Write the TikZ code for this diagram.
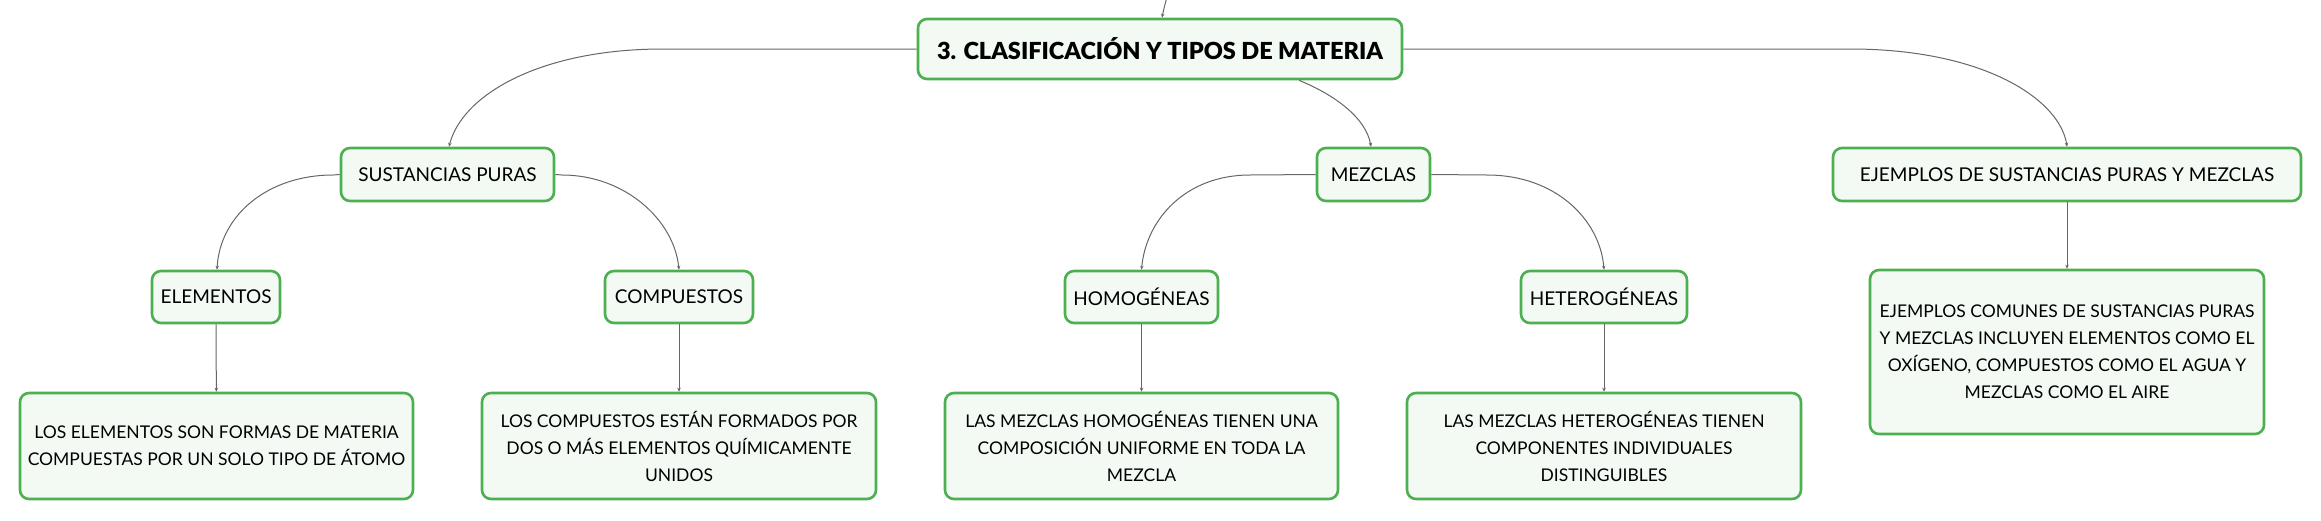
\documentclass[tikz,border=0pt]{standalone}
\usepackage{fontspec}
\setmainfont{Lato}
\newfontfamily\rootfont{Lato Black}
\usetikzlibrary{arrows.meta}
\definecolor{boxgreen}{RGB}{76,175,80}
\definecolor{boxfill}{RGB}{243,250,244}
\definecolor{linkgray}{RGB}{102,102,102}

\begin{document}
\begin{tikzpicture}[x=1pt, y=-1pt,
	box/.style={draw=boxgreen, line width=2.6pt, fill=boxfill, rounded corners=9pt, inner sep=0pt, align=center, font=\fontsize{19}{27}\selectfont},
	defbox/.style={box, font=\fontsize{17.5}{27}\selectfont},
	link/.style={draw=linkgray, line width=1pt, -{Stealth[length=4pt, width=3.5pt]}}]

\useasboundingbox (0,0) rectangle (2321,520);

% root and first level
\node[box, minimum width=484pt, minimum height=60pt, font=\fontsize{23.5}{28}\rootfont] (root) at (1160,49) {3. CLASIFICACIÓN Y TIPOS DE MATERIA};
\node[box, minimum width=213pt, minimum height=53pt] (puras) at (447.5,174.5) {SUSTANCIAS PURAS};
\node[box, minimum width=113pt, minimum height=53pt] (mezclas) at (1373.5,174.5) {MEZCLAS};
\node[box, minimum width=468pt, minimum height=53pt] (ejemplos) at (2067,174.5) {EJEMPLOS DE SUSTANCIAS PURAS Y MEZCLAS};

% second level
\node[box, minimum width=128pt, minimum height=52pt] (elementos) at (216,297) {ELEMENTOS};
\node[box, minimum width=148pt, minimum height=52pt] (compuestos) at (679,297) {COMPUESTOS};
\node[box, minimum width=153pt, minimum height=52pt] (homog) at (1141.5,297) {HOMOGÉNEAS};
\node[box, minimum width=166pt, minimum height=52pt] (heterog) at (1604,297) {HETEROGÉNEAS};

% descriptions
\node[defbox, minimum width=393pt, minimum height=106pt] (elementosdef) at (216.5,446) {LOS ELEMENTOS SON FORMAS DE MATERIA\\COMPUESTAS POR UN SOLO TIPO DE ÁTOMO};
\node[defbox, minimum width=394pt, minimum height=106pt] (compuestosdef) at (679,446) {LOS COMPUESTOS ESTÁN FORMADOS POR\\DOS O MÁS ELEMENTOS QUÍMICAMENTE\\UNIDOS};
\node[defbox, minimum width=393pt, minimum height=106pt] (homogdef) at (1141.5,446) {LAS MEZCLAS HOMOGÉNEAS TIENEN UNA\\COMPOSICIÓN UNIFORME EN TODA LA\\MEZCLA};
\node[defbox, minimum width=394pt, minimum height=106pt] (heterogdef) at (1604,446) {LAS MEZCLAS HETEROGÉNEAS TIENEN\\COMPONENTES INDIVIDUALES\\DISTINGUIBLES};
\node[defbox, minimum width=394pt, minimum height=164pt] (ejemplosdef) at (2067,352) {EJEMPLOS COMUNES DE SUSTANCIAS PURAS\\Y MEZCLAS INCLUYEN ELEMENTOS COMO EL\\OXÍGENO, COMPUESTOS COMO EL AGUA Y\\MEZCLAS COMO EL AIRE};

% connectors
\coordinate (up) at (1167,-3);
\draw[link] (up) .. controls (1164,8) .. ([xshift=2pt]root.north);
\draw[link] (root.west) -- (663,49) .. controls (540,49) and (462,95) .. ([xshift=1.5pt]puras.north);
\draw[link] ([xshift=139pt]root.south) .. controls (1335,95) and (1366,118) .. ([xshift=-2.5pt]mezclas.north);
\draw[link] (root.east) -- (1850,49) .. controls (1985,49) and (2060,100) .. (ejemplos.north);

\draw[link] (puras.west) -- (333,175) .. controls (268,175) and (220,215) .. ([xshift=1pt]elementos.north);
\draw[link] (puras.east) -- (562,175) .. controls (625,175) and (674,220) .. (compuestos.north);
\draw[link] (mezclas.west) -- (1250,175) .. controls (1185,175) and (1146,220) .. (homog.north);
\draw[link] (mezclas.east) -- (1487,175) .. controls (1556,175) and (1600,220) .. (heterog.north);

\draw[link] (elementos) -- (elementosdef);
\draw[link] (compuestos) -- (compuestosdef);
\draw[link] (homog) -- (homogdef);
\draw[link] (heterog) -- (heterogdef);
\draw[link] (ejemplos) -- (ejemplosdef);

\end{tikzpicture}
\end{document}
